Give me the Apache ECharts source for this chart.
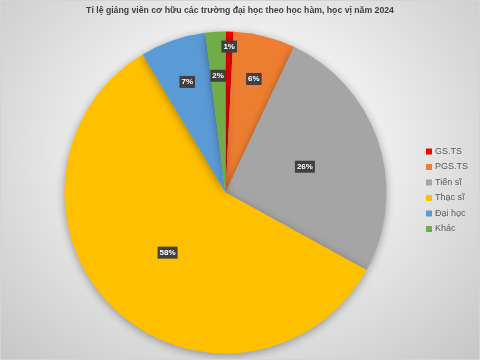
<!DOCTYPE html>
<html>
<head>
<meta charset="utf-8">
<script src="https://cdn.jsdelivr.net/npm/echarts@6/dist/echarts.min.js"></script>
<style>
html,body{margin:0;padding:0;}
#c{width:480px;height:360px;box-sizing:border-box;border:1px solid #d4d4d4;
background:radial-gradient(ellipse farthest-corner at 50% 42%, #ffffff 0%, #ececec 45%, #c6c6c6 100%);}
</style>
</head>
<body>
<div id="c"></div>
<script>
const titleText = 'Tỉ lệ giảng viên cơ hữu các trường đại học theo học hàm, học vị năm 2024';
const categories = ['GS.TS', 'PGS.TS', 'Tiến sĩ', 'Thạc sĩ', 'Đại học', 'Khác'];
const values = [0.8, 6.2, 26.0, 58.4, 6.6, 2.0];
const colors = ['#FF0000', '#ED7D31', '#A5A5A5', '#FFC000', '#5B9BD5', '#70AD47'];

// which label layer each slice's label sits on (0 = mid of slice, 1 = outer, 2 = far outer)
const labelLayer = [2, 1, 0, 0, 1, 1];

const chart = echarts.init(document.getElementById('c'), null, {renderer: 'canvas'});
const center = [224.5, 191.5];
const R = 161;
const labelStyle = {
  position: 'inside',
  formatter: p => Math.round(p.percent) + '%',
  color: '#ffffff',
  fontFamily: 'Liberation Sans, Arial, sans-serif',
  fontWeight: 'bold',
  fontSize: 8,
  backgroundColor: '#404040',
  padding: [2, 2, 1, 2],
  lineHeight: 9
};
function mkData(layer, visible) {
  return categories.map((n, i) => ({
    name: n,
    value: values[i],
    itemStyle: visible ? {color: colors[i]} : {color: 'rgba(0,0,0,0)'},
    label: {show: labelLayer[i] === layer}
  }));
}
const base = {
  type: 'pie', center: center, startAngle: 90, clockwise: true,
  labelLine: {show: false}, avoidLabelOverlap: false, animation: false,
  percentPrecision: 0
};
chart.setOption({
  title: {
    text: titleText, left: 'center', top: 0,
    textStyle: {fontFamily: 'Liberation Sans, Arial, sans-serif', fontSize: 8.7, fontWeight: 'bold', color: '#404040'}
  },
  legend: {
    orient: 'vertical', left: 420, top: 140,
    itemWidth: 6, itemHeight: 6, itemGap: 4.5, icon: 'rect',
    data: categories,
    textStyle: {fontFamily: 'Liberation Sans, Arial, sans-serif', fontSize: 9, color: '#595959', lineHeight: 11, padding: [0, 0, 0, -2]}
  },
  series: [
    Object.assign({}, base, {
      name: 'main', radius: [0, R], data: mkData(0, true), label: labelStyle,
      itemStyle: {shadowBlur: 8, shadowColor: 'rgba(0,0,0,0.35)', shadowOffsetY: 2},
      emphasis: {disabled: true}
    }),
    Object.assign({}, base, {
      name: 'lbl1', radius: [0, 228], data: mkData(1, false), label: labelStyle,
      silent: true, emphasis: {disabled: true}, legendHoverLink: false
    }),
    Object.assign({}, base, {
      name: 'lbl2', radius: [0, 286], data: mkData(2, false), label: labelStyle,
      silent: true, emphasis: {disabled: true}, legendHoverLink: false
    })
  ]
});
</script>
</body>
</html>
